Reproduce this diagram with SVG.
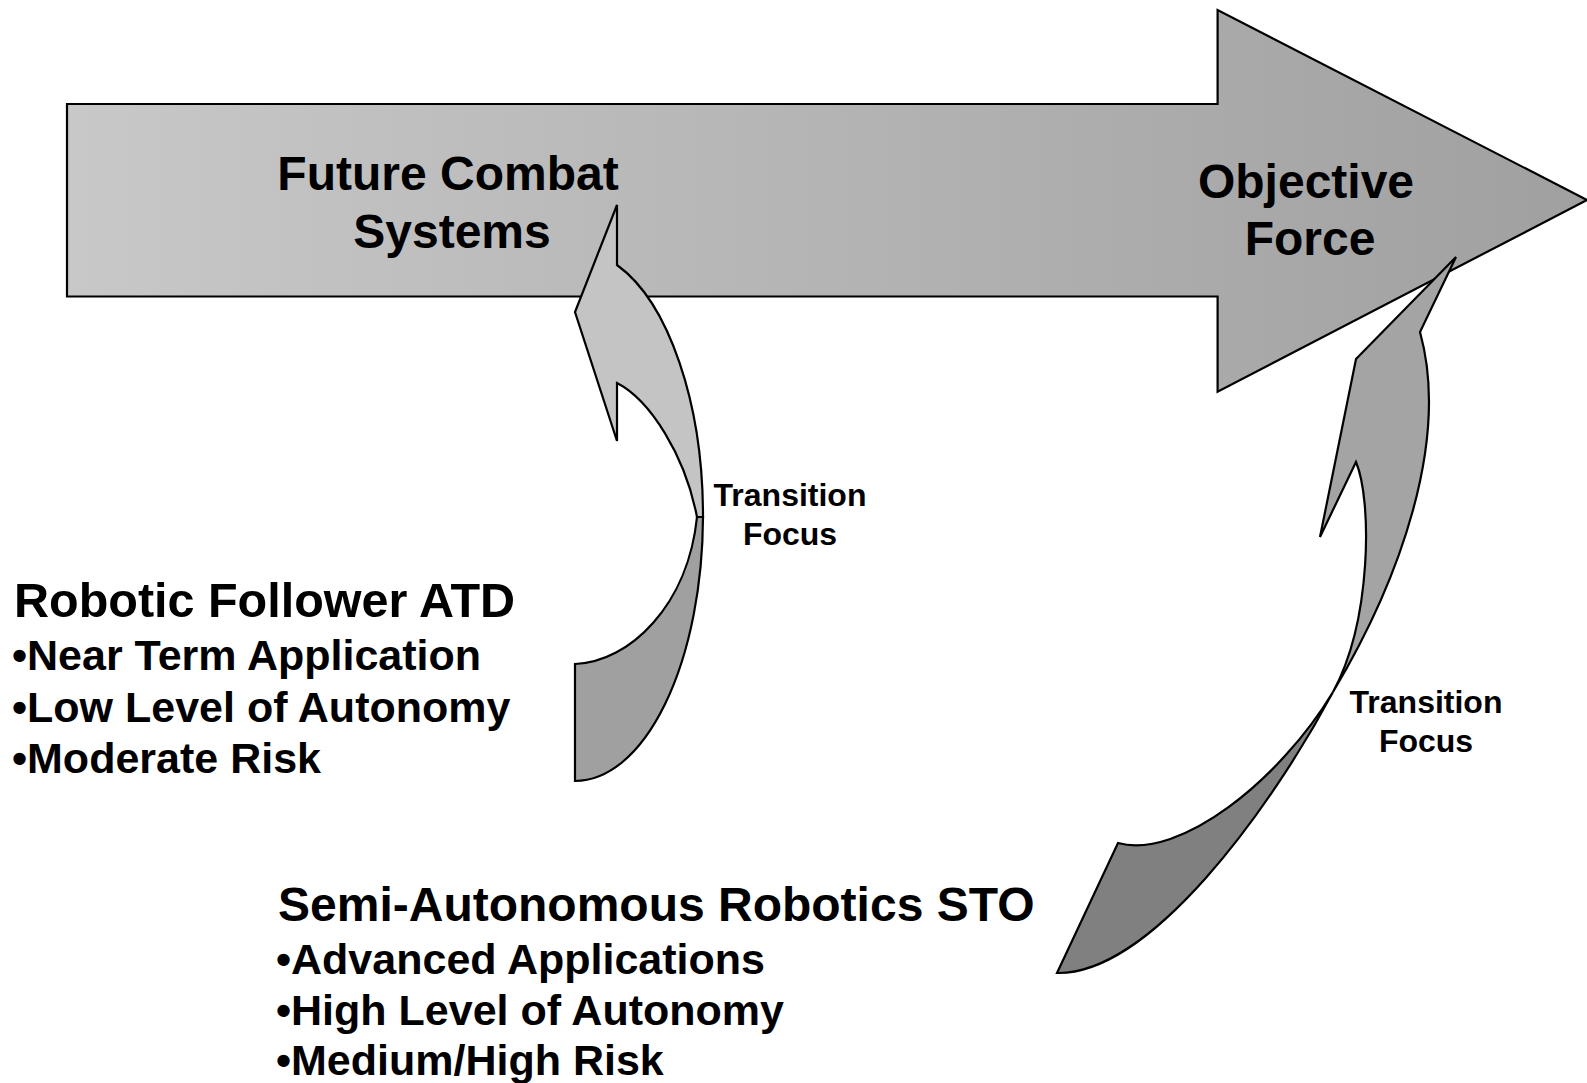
<svg xmlns="http://www.w3.org/2000/svg" width="1587" height="1083" viewBox="0 0 1587 1083">
<defs>
<linearGradient id="shaft" gradientUnits="userSpaceOnUse" x1="67" y1="0" x2="1587" y2="0">
<stop offset="0" stop-color="#c8c8c8"/>
<stop offset="1" stop-color="#a0a0a0"/>
</linearGradient>
</defs>
<style>
.ol{stroke:#000;stroke-width:2.2;stroke-linejoin:miter}
.t{font-family:"Liberation Sans",Arial,sans-serif;font-weight:bold;fill:#000}
.big{font-size:48px}
.head{font-size:48.5px}
.head2{font-size:48px}
.bul{font-size:43px}
.tf{font-size:32px}
</style>
<rect width="1587" height="1083" fill="#fff"/>
<g id="main-arrow">
<path class="ol" fill="url(#shaft)" d="M67,104 L1217.6,104 L1217.6,10 L1587,200 L1217.6,391.7 L1217.6,296.5 L67,296.5 Z"/>
<text class="t big" x="448" y="190" text-anchor="middle">Future Combat</text>
<text class="t big" x="452" y="248" text-anchor="middle">Systems</text>
<text class="t big" x="1306" y="198" text-anchor="middle">Objective</text>
<text class="t big" x="1310" y="255" text-anchor="middle">Force</text>
</g>
<g id="connectors">
<g id="left-curved-arrow">
<path class="ol" fill="#c4c4c4" d="M617,205 L575,312 L617,441 L617,383 C650,400 685,455 697,517 L703,517 A128,266 0 0 0 617,265 Z"/>
<path class="ol" fill="#a0a0a0" d="M575,664 C630,662 688,605 697,517 L703,517 A128,266 0 0 1 575,781 Z"/>
</g>
<g id="right-curved-arrow">
<path class="ol" fill="#a4a4a4" d="M1456,257 L1356,359 L1320,537 L1356,462 C1372,500 1372,620 1333,692 C1400,580 1450,440 1420,332 Z"/>
<path class="ol" fill="#808080" d="M1118,843 C1180,860 1280,780 1333,692 C1270,810 1150,975 1057,973 Z"/>
</g>
</g>
<g id="label-transition-left">
<text class="t tf" x="790" y="506" text-anchor="middle">Transition</text>
<text class="t tf" x="790" y="545" text-anchor="middle">Focus</text>
</g>
<g id="label-transition-right">
<text class="t tf" x="1426" y="713" text-anchor="middle">Transition</text>
<text class="t tf" x="1426" y="752" text-anchor="middle">Focus</text>
</g>
<g id="robotic-follower">
<text class="t head" x="14" y="617">Robotic Follower ATD</text>
<text class="t bul" x="12" y="670">•Near Term Application</text>
<text class="t bul" x="12" y="722">•Low Level of Autonomy</text>
<text class="t bul" x="12" y="773">•Moderate Risk</text>
</g>
<g id="semi-autonomous">
<text class="t head2" x="278" y="921">Semi-Autonomous Robotics STO</text>
<text class="t bul" x="276" y="974">•Advanced Applications</text>
<text class="t bul" x="276" y="1025">•High Level of Autonomy</text>
<text class="t bul" x="276" y="1075">•Medium/High Risk</text>
</g>
</svg>
